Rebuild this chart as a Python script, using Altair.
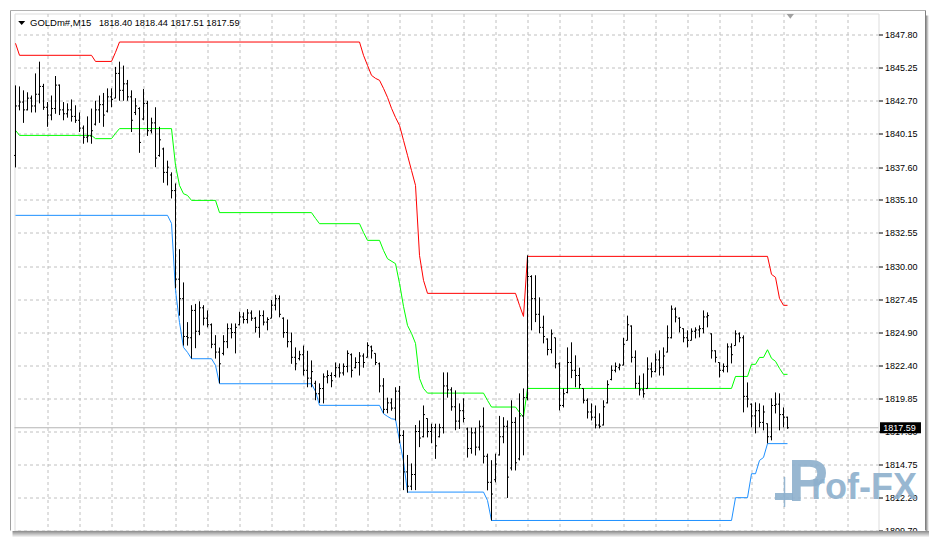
import altair as alt
import pandas as pd

# ---------------- data ----------------
symbol = "GOLDm#,M15"

high = [1843.88, 1843.80, 1843.50, 1843.35, 1843.10, 1844.80, 1845.70, 1844.00, 1842.60, 1843.10,
        1844.60, 1843.95, 1842.60, 1842.50, 1842.80, 1842.35, 1841.80, 1840.80, 1841.50, 1842.10,
        1842.70, 1843.10, 1843.30, 1843.65, 1843.65, 1845.30, 1845.70, 1845.40, 1844.30, 1843.50,
        1842.90, 1842.20, 1843.60, 1842.70, 1841.40, 1842.20, 1840.70, 1839.10, 1838.10, 1837.20,
        1836.35, 1831.30, 1828.75, 1825.70, 1827.00, 1827.10, 1827.30, 1827.00, 1826.60, 1825.60,
        1824.70, 1823.75, 1824.70, 1825.60, 1825.60, 1825.60, 1826.50, 1826.45, 1826.70, 1826.60,
        1826.10, 1826.60, 1826.60, 1826.07, 1827.40, 1827.80, 1827.75, 1826.07, 1825.90, 1824.90,
        1823.76, 1823.50, 1823.90, 1823.50, 1822.76, 1821.20, 1821.00, 1821.76, 1822.00, 1821.84,
        1822.60, 1822.53, 1822.53, 1823.53, 1823.30, 1823.00, 1823.40, 1823.30, 1824.15, 1823.90,
        1823.30, 1822.60, 1821.40, 1819.90, 1819.85, 1820.70, 1820.80, 1817.40, 1815.50, 1814.85,
        1817.80, 1818.15, 1819.30, 1818.30, 1817.90, 1817.90, 1817.90, 1821.84, 1821.84, 1820.70,
        1820.46, 1819.46, 1819.85, 1817.60, 1817.60, 1817.60, 1818.15, 1819.15, 1815.60, 1815.10,
        1815.60, 1818.50, 1818.40, 1818.15, 1819.70, 1818.40, 1820.23, 1820.61, 1830.83, 1829.30,
        1829.30, 1827.60, 1826.20, 1824.45, 1825.14, 1824.50, 1822.60, 1820.60, 1823.76, 1824.15,
        1823.15, 1822.20, 1820.60, 1819.85, 1819.46, 1819.30, 1818.70, 1819.70, 1821.23, 1822.38,
        1822.60, 1822.53, 1824.50, 1826.20, 1825.45, 1823.53, 1821.60, 1821.76, 1823.00, 1822.60,
        1823.30, 1823.53, 1823.76, 1825.45, 1826.98, 1826.83, 1826.07, 1825.22, 1825.07, 1825.22,
        1825.30, 1825.45, 1826.60, 1826.45, 1824.84, 1823.53, 1822.60, 1822.53, 1824.07, 1824.07,
        1825.07, 1824.91, 1824.68, 1821.07, 1819.46, 1819.54, 1819.46, 1819.30, 1817.92, 1819.85,
        1820.30, 1820.23, 1819.15, 1818.44]

low = [1837.58, 1841.96, 1841.00, 1841.96, 1841.80, 1841.80, 1842.50, 1842.00, 1840.70, 1841.20,
       1841.70, 1841.60, 1841.20, 1841.40, 1841.10, 1841.00, 1840.30, 1839.40, 1839.50, 1839.40,
       1840.80, 1841.00, 1840.70, 1841.80, 1842.20, 1842.90, 1842.70, 1842.70, 1842.70, 1840.30,
       1841.60, 1838.70, 1841.20, 1840.00, 1840.20, 1837.60, 1838.40, 1836.40, 1836.20, 1835.20,
       1828.30, 1826.20, 1823.90, 1823.90, 1822.90, 1823.70, 1824.70, 1825.45, 1825.30, 1823.70,
       1822.90, 1821.00, 1823.15, 1823.70, 1824.45, 1823.30, 1825.45, 1825.60, 1825.60, 1825.80,
       1824.90, 1824.50, 1825.45, 1825.07, 1826.00, 1826.60, 1826.07, 1824.50, 1823.76, 1822.50,
       1822.00, 1822.76, 1821.60, 1820.70, 1820.70, 1819.70, 1819.50, 1819.46, 1821.00, 1820.70,
       1821.45, 1821.45, 1821.60, 1821.84, 1821.45, 1822.15, 1821.60, 1822.20, 1823.00, 1822.90,
       1822.40, 1820.30, 1818.70, 1818.70, 1818.90, 1818.15, 1816.40, 1812.80, 1812.60, 1812.80,
       1812.80, 1816.10, 1816.85, 1816.85, 1816.40, 1815.20, 1816.85, 1817.15, 1819.90, 1818.90,
       1817.40, 1817.50, 1818.00, 1815.30, 1815.60, 1815.46, 1815.85, 1814.85, 1812.78, 1810.47,
       1813.40, 1815.46, 1816.40, 1812.20, 1814.31, 1814.31, 1815.08, 1815.47, 1819.70, 1825.07,
       1825.70, 1824.84, 1824.07, 1823.15, 1823.30, 1822.15, 1818.92, 1819.15, 1820.23, 1821.40,
       1820.70, 1820.60, 1819.46, 1818.30, 1818.15, 1817.54, 1817.54, 1817.77, 1819.46, 1821.23,
       1821.84, 1822.00, 1822.38, 1824.30, 1822.60, 1820.60, 1820.07, 1819.90, 1820.60, 1821.45,
       1821.84, 1821.60, 1821.60, 1823.38, 1824.45, 1825.68, 1824.91, 1824.15, 1823.76, 1824.30,
       1824.45, 1824.53, 1824.84, 1825.30, 1822.90, 1822.60, 1821.45, 1821.84, 1821.84, 1822.53,
       1823.90, 1824.15, 1818.77, 1819.15, 1817.62, 1817.16, 1817.62, 1817.39, 1816.39, 1816.62,
       1818.69, 1817.39, 1817.62, 1817.51]

open_ = [1838.50, 1842.30, 1842.60, 1842.00, 1842.90, 1842.30, 1843.20, 1843.80, 1842.20, 1841.60,
         1842.10, 1843.90, 1842.00, 1841.70, 1842.00, 1841.50, 1841.20, 1840.60, 1839.90, 1840.00,
         1840.90, 1842.00, 1842.40, 1841.90, 1843.00, 1842.90, 1844.80, 1843.50, 1844.00, 1843.00,
         1841.80, 1842.10, 1841.30, 1842.50, 1840.40, 1841.00, 1838.50, 1839.00, 1837.20, 1837.00,
         1835.80, 1829.00, 1827.50, 1824.60, 1824.50, 1826.60, 1825.00, 1826.80, 1826.00, 1825.50,
         1824.00, 1823.40, 1823.30, 1824.20, 1825.20, 1824.90, 1825.50, 1826.10, 1825.90, 1826.40,
         1826.00, 1825.30, 1826.20, 1825.70, 1826.00, 1827.00, 1827.50, 1826.00, 1824.90, 1824.20,
         1823.00, 1822.90, 1823.20, 1822.00, 1821.40, 1821.00, 1820.20, 1820.60, 1821.50, 1821.60,
         1821.60, 1822.20, 1821.80, 1822.30, 1823.20, 1822.20, 1822.60, 1823.10, 1823.00, 1823.80,
         1823.30, 1822.50, 1820.80, 1819.00, 1819.50, 1819.10, 1820.40, 1817.00, 1814.20, 1813.10,
         1814.00, 1817.30, 1816.90, 1818.30, 1817.30, 1817.60, 1816.90, 1817.60, 1820.80, 1820.50,
         1819.20, 1818.10, 1818.90, 1817.50, 1816.00, 1817.20, 1816.10, 1817.70, 1815.40, 1813.40,
         1813.60, 1815.50, 1816.90, 1817.70, 1814.50, 1818.00, 1815.20, 1818.50, 1819.90, 1829.20,
         1827.50, 1826.30, 1825.30, 1824.40, 1823.60, 1824.50, 1822.50, 1819.30, 1820.30, 1822.60,
         1822.00, 1821.60, 1820.60, 1819.70, 1818.80, 1818.40, 1817.80, 1817.80, 1819.50, 1821.30,
         1822.00, 1822.20, 1822.40, 1824.30, 1825.40, 1823.00, 1821.00, 1820.50, 1820.60, 1822.10,
         1821.90, 1822.80, 1822.20, 1823.40, 1824.50, 1826.70, 1826.00, 1825.20, 1824.50, 1824.30,
         1825.00, 1825.10, 1825.20, 1826.10, 1824.80, 1823.50, 1822.60, 1822.00, 1822.30, 1823.80,
         1823.90, 1824.80, 1824.50, 1820.00, 1819.40, 1818.50, 1818.90, 1818.00, 1817.90, 1816.90,
         1819.30, 1819.40, 1818.60, 1818.40]

close = [1842.30, 1842.60, 1842.00, 1842.90, 1842.30, 1843.20, 1843.80, 1842.20, 1841.60, 1842.10,
         1843.90, 1842.00, 1841.70, 1842.00, 1841.50, 1841.20, 1840.60, 1839.90, 1840.00, 1840.40,
         1842.00, 1842.40, 1841.60, 1843.00, 1842.80, 1844.80, 1843.50, 1844.00, 1843.00, 1841.20,
         1842.30, 1839.50, 1842.50, 1840.40, 1841.00, 1838.30, 1839.70, 1837.20, 1837.60, 1835.80,
         1829.00, 1827.50, 1824.60, 1824.50, 1826.60, 1825.00, 1826.80, 1826.00, 1825.50, 1824.00,
         1823.40, 1822.50, 1824.20, 1825.20, 1824.90, 1825.30, 1826.10, 1825.90, 1826.40, 1826.00,
         1825.30, 1826.20, 1825.70, 1825.90, 1827.00, 1827.50, 1826.30, 1824.90, 1824.20, 1823.00,
         1822.50, 1823.20, 1822.00, 1821.40, 1821.90, 1820.20, 1820.60, 1821.50, 1821.60, 1821.20,
         1822.20, 1821.80, 1822.30, 1823.30, 1822.00, 1822.60, 1823.10, 1822.60, 1823.90, 1823.50,
         1822.60, 1820.80, 1819.00, 1819.50, 1819.10, 1820.40, 1817.00, 1814.20, 1813.10, 1814.00,
         1817.30, 1816.80, 1818.60, 1817.30, 1817.60, 1816.20, 1817.60, 1820.80, 1820.50, 1819.20,
         1818.10, 1818.90, 1818.30, 1816.00, 1817.20, 1816.10, 1817.70, 1815.40, 1813.40, 1812.50,
         1814.80, 1816.90, 1817.70, 1813.80, 1818.00, 1814.90, 1818.50, 1819.90, 1829.20, 1827.50,
         1826.30, 1825.30, 1824.60, 1823.60, 1824.80, 1822.50, 1819.30, 1820.20, 1822.60, 1822.00,
         1821.60, 1820.90, 1819.70, 1818.80, 1818.40, 1817.80, 1817.70, 1819.20, 1820.90, 1822.00,
         1822.30, 1822.40, 1824.00, 1825.50, 1823.00, 1821.00, 1820.50, 1820.20, 1822.10, 1821.90,
         1822.80, 1822.20, 1823.10, 1824.50, 1826.70, 1826.10, 1825.30, 1824.50, 1824.30, 1825.00,
         1825.10, 1825.20, 1826.10, 1826.20, 1823.50, 1823.00, 1822.00, 1822.30, 1823.80, 1823.20,
         1824.80, 1824.50, 1820.00, 1819.80, 1818.50, 1818.90, 1818.00, 1818.80, 1816.90, 1819.30,
         1819.40, 1818.60, 1818.40, 1817.59]

assert len(high) == len(low) == len(open_) == len(close) == 194
bar_no = list(range(len(high)))

# channel lines: vertices (bar number, price)
red_bar = [0, 1, 19, 20, 24, 25, 26, 86, 87, 88, 89, 90, 91, 92, 93, 94, 95, 96, 97, 98, 99,
           100, 101, 102, 103, 125, 126, 127, 128, 188, 189, 190, 191, 192, 193]
red_val = [1847.11, 1846.19, 1846.19, 1845.72, 1845.72, 1846.42, 1847.21, 1847.21, 1846.19,
           1845.42, 1844.65, 1844.42, 1844.27, 1843.65, 1842.96, 1842.12, 1841.42, 1840.81,
           1839.66, 1838.51, 1837.35, 1836.20, 1830.83, 1828.91, 1827.91, 1827.91, 1826.99,
           1826.14, 1830.75, 1830.75, 1829.37, 1829.14, 1827.52, 1826.99, 1826.99]

green_bar = [0, 1, 19, 20, 24, 25, 26, 39, 40, 41, 42, 43, 44, 50, 51, 74, 75, 76, 86, 87, 88,
             91, 92, 93, 95, 96, 97, 98, 99, 100, 101, 102, 103, 117, 118, 119, 125, 126, 127,
             128, 179, 180, 183, 184, 185, 186, 187, 188, 189, 190, 191, 192, 193]
green_val = [1840.43, 1840.04, 1840.04, 1839.79, 1839.79, 1840.20, 1840.56, 1840.56, 1837.74,
             1836.20, 1835.56, 1835.43, 1835.05, 1835.05, 1834.11, 1834.11, 1833.67, 1833.26,
             1833.26, 1832.59, 1831.98, 1831.98, 1831.21, 1830.57, 1830.19, 1828.68, 1826.91,
             1825.45, 1824.84, 1824.07, 1821.38, 1820.61, 1820.25, 1820.25, 1819.69, 1819.18,
             1819.18, 1818.77, 1818.41, 1820.61, 1820.61, 1821.53, 1821.53, 1822.46, 1822.46,
             1822.99, 1822.99, 1823.58, 1822.92, 1822.69, 1822.15, 1821.69, 1821.69]

blue_bar = [0, 38, 39, 40, 41, 42, 43, 44, 49, 50, 51, 74, 75, 76, 91, 92, 93, 94, 95, 96, 97,
            98, 117, 118, 119, 179, 180, 183, 184, 185, 186, 187, 188, 193]
blue_val = [1833.90, 1833.90, 1833.28, 1828.14, 1825.68, 1823.76, 1823.38, 1822.89, 1822.89,
            1822.38, 1820.97, 1820.97, 1820.38, 1819.31, 1819.31, 1818.67, 1818.46, 1818.28,
            1818.23, 1816.62, 1815.01, 1812.65, 1812.65, 1812.01, 1810.47, 1810.47, 1812.22,
            1812.22, 1814.06, 1814.06, 1815.08, 1815.31, 1816.37, 1816.37]

price_ticks = [1847.80, 1845.25, 1842.70, 1840.15, 1837.60, 1835.10, 1832.55, 1830.00,
               1827.45, 1824.90, 1822.40, 1819.85, 1817.30, 1814.75, 1812.20, 1809.70]
time_grid = [8, 16, 24, 32, 40, 48, 56, 64, 72, 80, 88, 96, 104, 112, 120, 128, 136, 144,
             152, 160, 168, 176, 184, 192, 200, 208]
last_price = close[-1]
watermark_big = "P"
watermark_rest = "rof-FX"

# ---------------- chart ----------------
W, H = 864, 517
FONT = "Liberation Sans"
GRID = "#c0c0c0"

xs = alt.Scale(domain=[-0.25, 215.75], nice=False, zero=False)
ys = alt.Scale(domain=[1809.70, 1849.40], nice=False, zero=False)
xaxis = alt.Axis(values=time_grid, grid=True, gridColor=GRID, gridDash=[3, 3], gridWidth=1,
                 labels=False, ticks=False, domain=False, title=None, zindex=0)
yaxis = alt.Axis(orient="right", values=price_ticks, format=".2f", grid=True, gridColor=GRID,
                 gridDash=[3, 3], gridWidth=1, labelFont=FONT, labelFontSize=9,
                 labelColor="black", tickColor="black", tickSize=4, tickWidth=1,
                 labelPadding=2, domain=False, title=None, zindex=0,
                 labelOverlap=False, labelFlush=False)


def X(f):
    return alt.X(f"{f}:Q", scale=xs, axis=xaxis)


def Y(f):
    return alt.Y(f"{f}:Q", scale=ys, axis=yaxis)


one = pd.DataFrame({"k": [0]})
bars = pd.DataFrame({"bar": bar_no, "open": open_, "high": high, "low": low, "close": close})

layers = []

# current price line
layers.append(alt.Chart(pd.DataFrame({"price": [last_price]}))
              .mark_rule(color="#b4b4b4", strokeWidth=1).encode(y=Y("price")))

# watermark
wm_color = "#8db0cd"
layers.append(alt.Chart(one).mark_rect(color=wm_color, opacity=0.9).encode(
    x=alt.value(760.5), x2=alt.value(778.5), y=alt.value(479.5), y2=alt.value(486.5)))
layers.append(alt.Chart(one).mark_rule(color=wm_color, strokeWidth=1.5, opacity=0.9).encode(
    x=alt.value(770), y=alt.value(463.5), y2=alt.value(493.5)))
layers.append(alt.Chart(pd.DataFrame({"t": [watermark_big]})).mark_text(
    font="Liberation Sans Narrow, Liberation Sans", fontWeight="bold", fontSize=60,
    color=wm_color, opacity=0.9, align="left", baseline="alphabetic").encode(
    x=alt.value(773.5), y=alt.value(487.5), text="t:N"))
layers.append(alt.Chart(pd.DataFrame({"t": [watermark_rest]})).mark_text(
    font="Liberation Sans Narrow, Liberation Sans", fontWeight="bold", fontSize=36,
    color=wm_color, opacity=0.9, align="left", baseline="alphabetic").encode(
    x=alt.value(796.5), y=alt.value(485.5), text="t:N"))

# channel lines
for bx, vals, col in [(red_bar, red_val, "#ff0000"), (green_bar, green_val, "#00ff00"),
                      (blue_bar, blue_val, "#1e90ff")]:
    layers.append(alt.Chart(pd.DataFrame({"bar": bx, "price": vals}))
                  .mark_line(color=col, strokeWidth=1).encode(x=X("bar"), y=Y("price")))

# OHLC bars
layers.append(alt.Chart(bars).mark_rule(color="black", strokeWidth=1)
              .encode(x=X("bar"), y=Y("low"), y2="high"))
layers.append(alt.Chart(bars).mark_rule(color="black", strokeWidth=1, xOffset=-1.5, x2Offset=0)
              .encode(x=X("bar"), x2="bar", y=Y("open")))
layers.append(alt.Chart(bars).mark_rule(color="black", strokeWidth=1, xOffset=0, x2Offset=1.5)
              .encode(x=X("bar"), x2="bar", y=Y("close")))

# price label box
lab = pd.DataFrame({"price": [last_price], "label": [f"{last_price:.2f}"]})
layers.append(alt.Chart(lab).mark_point(shape="M-1,-0.27L1,-0.27L1,0.27L-1,0.27Z", size=1681,
                                        filled=True, color="black", opacity=1, strokeWidth=0)
              .encode(x=alt.value(886), y=Y("price")))
layers.append(alt.Chart(lab).mark_text(color="white", font=FONT, fontSize=9, align="center",
                                       baseline="middle")
              .encode(x=alt.value(885), y=Y("price"), text="label:N"))

# header text
layers.append(alt.Chart(one).mark_point(shape="M-1,-0.6L1,-0.6L0,0.6Z", size=49, filled=True,
                                        color="black", opacity=1, strokeWidth=0)
              .encode(x=alt.value(7.2), y=alt.value(9.5)))
layers.append(alt.Chart(pd.DataFrame({"t": [symbol]})).mark_text(
    font=FONT, fontSize=9.5, color="black", align="left", baseline="middle")
    .encode(x=alt.value(15.5), y=alt.value(9.5), text="t:N"))
ohlc_txt = f"{open_[-1]:.2f} {high[-1]:.2f} {low[-1]:.2f} {close[-1]:.2f}"
layers.append(alt.Chart(pd.DataFrame({"t": [ohlc_txt]})).mark_text(
    font=FONT, fontSize=9.2, color="black", align="left", baseline="middle")
    .encode(x=alt.value(84.5), y=alt.value(9.5), text="t:N"))

# chart-shift marker
layers.append(alt.Chart(one).mark_point(shape="M-1,-0.64L1,-0.64L0,0.64Z", size=53, filled=True,
                                        color="#a0a0a0", opacity=1, strokeWidth=0)
              .encode(x=alt.value(775.8), y=alt.value(2.8)))

# window frame and shadow
layers.append(alt.Chart(one).mark_rect(color="white").encode(
    x=alt.value(864.5), x2=alt.value(914.5), y=alt.value(517.5), y2=alt.value(524.5)))
layers.append(alt.Chart(one).mark_rule(color="#b0b0b0", strokeWidth=1).encode(
    x=alt.value(-4), x2=alt.value(911), y=alt.value(-3)))
layers.append(alt.Chart(one).mark_rule(color="#a0a0a0", strokeWidth=1).encode(
    x=alt.value(-4), y=alt.value(-3), y2=alt.value(517)))
layers.append(alt.Chart(one).mark_rule(color="#808080", strokeWidth=1).encode(
    x=alt.value(911), y=alt.value(-3), y2=alt.value(517)))
hgrad = alt.LinearGradient(gradient="linear", x1=0, x2=1, y1=0, y2=0,
                           stops=[alt.GradientStop(color="#8a8a8a", offset=0),
                                  alt.GradientStop(color="#ffffff", offset=1)])
vgrad = alt.LinearGradient(gradient="linear", x1=0, x2=0, y1=0, y2=1,
                           stops=[alt.GradientStop(color="#8a8a8a", offset=0),
                                  alt.GradientStop(color="#ffffff", offset=1)])
layers.append(alt.Chart(one).mark_rect(fill=hgrad, strokeWidth=0).encode(
    x=alt.value(911.5), x2=alt.value(914.5), y=alt.value(2), y2=alt.value(523)))
layers.append(alt.Chart(one).mark_rect(fill=vgrad, strokeWidth=0).encode(
    x=alt.value(-2), x2=alt.value(914.5), y=alt.value(517.5), y2=alt.value(524)))

chart = (alt.layer(*layers)
         .properties(width=W, height=H, autosize=alt.AutoSizeParams(type="none"),
                     padding={"left": 6.5, "top": 5.5, "right": 50.5, "bottom": 7.5})
         .configure_view(stroke="black", strokeWidth=1)
         .configure(background="white"))

chart.save("out.html", embed_options={"renderer": "svg", "actions": False})
